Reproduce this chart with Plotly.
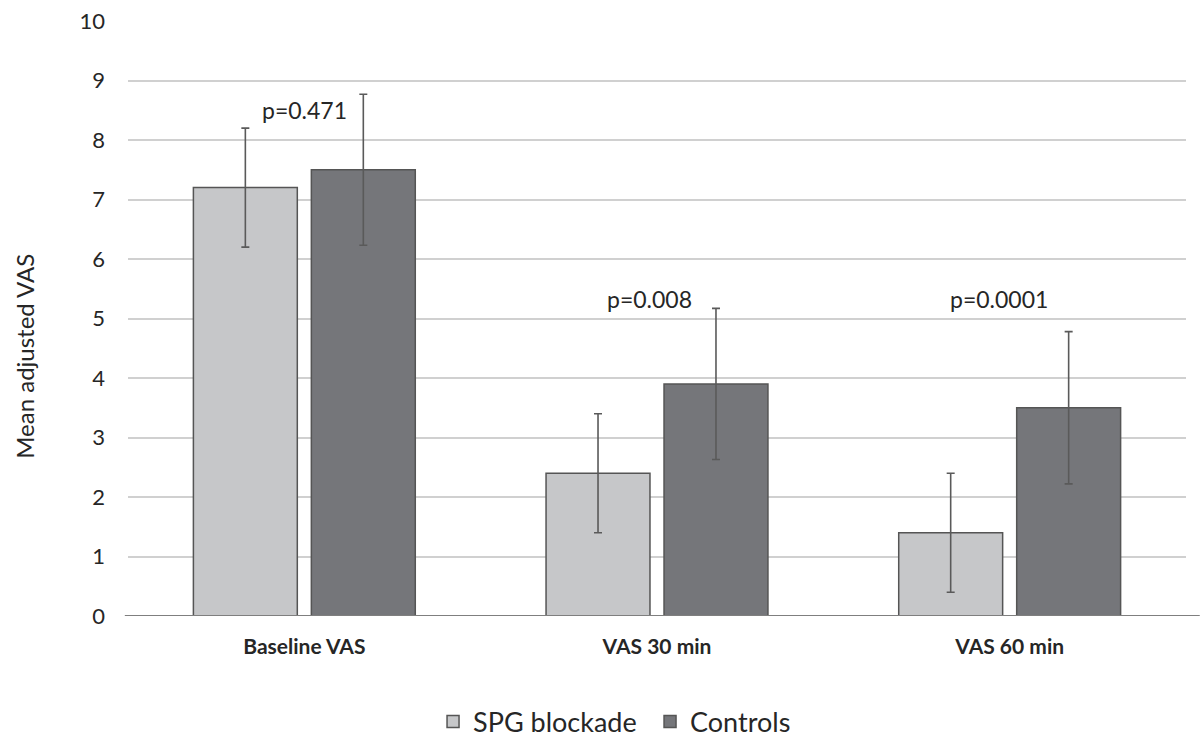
import plotly.graph_objects as go

categories = ["Baseline VAS", "VAS 30 min", "VAS 60 min"]
spg_values = [7.2, 2.4, 1.4]
spg_errors = [1.0, 1.0, 1.0]
control_values = [7.5, 3.9, 3.5]
control_errors = [1.27, 1.27, 1.28]
p_labels = ["p=0.471", "p=0.008", "p=0.0001"]
p_label_y = [8.5, 5.33, 5.33]
p_label_x = [0.0, -0.02, -0.03]

FONT = "Lato, 'Open Sans', sans-serif"
TXT = "#262626"
EB = "#5a5a5a"

fig = go.Figure()
fig.add_trace(go.Bar(
    name="SPG blockade", x=categories, y=spg_values,
    marker=dict(color="#c6c7c9", line=dict(color="#555555", width=1.5)),
    error_y=dict(type="data", array=spg_errors, visible=True, color=EB, thickness=1.6, width=4),
))
fig.add_trace(go.Bar(
    name="Controls", x=categories, y=control_values,
    marker=dict(color="#75767a", line=dict(color="#555555", width=1.5)),
    error_y=dict(type="data", array=control_errors, visible=True, color=EB, thickness=1.6, width=4),
))

for i, (lab, yy) in enumerate(zip(p_labels, p_label_y)):
    fig.add_annotation(x=i + p_label_x[i], y=yy, xref="x", yref="y", text=lab,
                       showarrow=False, font=dict(family=FONT, size=23, color=TXT))

# y-axis title (placed like the reference, slightly below the axis middle)
fig.add_annotation(x=-0.0975, y=0.437, xref="paper", yref="paper", text="Mean adjusted VAS",
                   textangle=-90, showarrow=False, xanchor="center", yanchor="middle",
                   font=dict(family=FONT, size=24, color=TXT))

# bottom axis line extending across
fig.add_shape(type="line", xref="paper", yref="y", x0=-0.003, x1=1.013, y0=0, y1=0,
              line=dict(color="#7f7f7f", width=2), layer="above")

fig.update_layout(
    width=1200, height=737,
    margin=dict(l=127.5, r=13.5, t=21, b=121, autoexpand=False),
    paper_bgcolor="white", plot_bgcolor="white",
    barmode="group", bargap=0.331, bargroupgap=0.119,
    font=dict(family=FONT, color=TXT),
    showlegend=True,
    legend=dict(orientation="h", x=0.5417, xanchor="center", xref="container",
                y=0.0204, yanchor="middle", yref="container",
                entrywidth=172, entrywidthmode="pixels",
                font=dict(family=FONT, size=27, color=TXT)),
    xaxis=dict(showgrid=False, showline=False, ticks="", zeroline=False, automargin=False,
               ticklabelstandoff=16,
               tickfont=dict(family="Lato, sans-serif", size=21, color=TXT, weight="bold"),
               range=[-0.5, 2.5]),
    yaxis=dict(range=[0, 10], dtick=1, showgrid=True, gridcolor="#d0d0d0", gridwidth=2,
               zeroline=False, showline=False, ticks="", ticklabelstandoff=22, automargin=False,
               tickfont=dict(family=FONT, size=22, color=TXT)),
)

fig.write_html("out.html", config={"displayModeBar": False},
               post_script="document.body.style.margin='0';document.body.style.overflow='hidden';")
